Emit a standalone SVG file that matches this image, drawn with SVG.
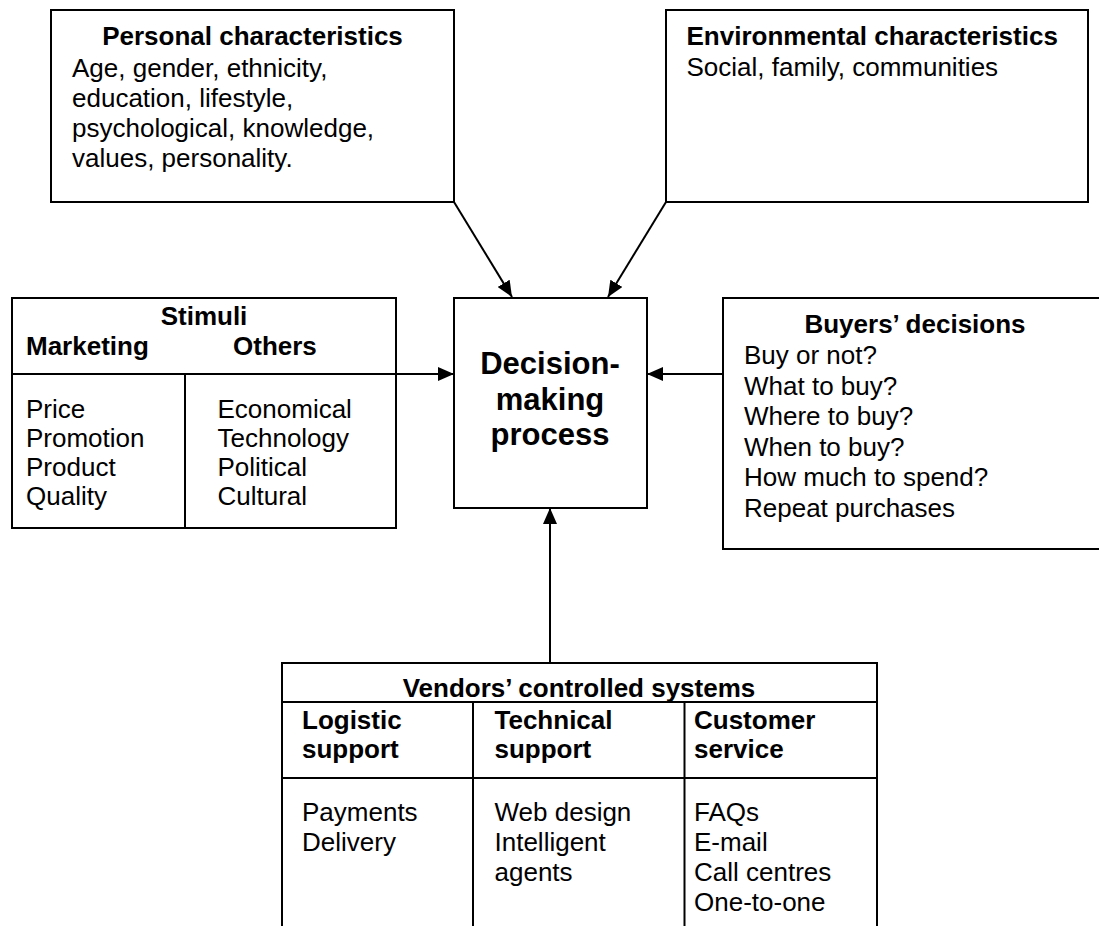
<svg xmlns="http://www.w3.org/2000/svg" width="1099" height="926" viewBox="0 0 1099 926">
<defs>
<style>
text{font-family:"Liberation Sans",Arial,sans-serif;font-size:26px;fill:#000}
.b{font-weight:bold}
.c{text-anchor:middle}
.box{fill:#fff;stroke:#000;stroke-width:2}
.ln{stroke:#000;stroke-width:2;fill:none}
.big{font-size:31px;font-weight:bold;text-anchor:middle}
</style>
<marker id="ah" markerUnits="userSpaceOnUse" markerWidth="16" markerHeight="14" refX="16" refY="7" orient="auto">
<path d="M0,0 L16,7 L0,14 z" fill="#000"/>
</marker>
</defs>
<rect width="1099" height="926" fill="#fff"/>
<g id="connectors">
<line class="ln" x1="454" y1="202" x2="512" y2="297" marker-end="url(#ah)"/>
<line class="ln" x1="666" y1="202" x2="608" y2="297" marker-end="url(#ah)"/>
<line class="ln" x1="396" y1="374" x2="454" y2="374" marker-end="url(#ah)"/>
<line class="ln" x1="723" y1="374" x2="647" y2="374" marker-end="url(#ah)"/>
<line class="ln" x1="550" y1="663" x2="550" y2="508" marker-end="url(#ah)"/>
</g>
<g id="personal">
<rect class="box" x="51" y="10" width="403" height="192"/>
<text class="b c" x="252.5" y="45">Personal characteristics</text>
<text x="72" y="76.5">Age, gender, ethnicity,</text>
<text x="72" y="106.5">education, lifestyle,</text>
<text x="72" y="136.5">psychological, knowledge,</text>
<text x="72" y="166.5">values, personality.</text>
</g>
<g id="environmental">
<rect class="box" x="666" y="10" width="422" height="192"/>
<text class="b" x="686.5" y="45">Environmental characteristics</text>
<text x="686.5" y="76">Social, family, communities</text>
</g>
<g id="decision">
<rect class="box" x="454" y="298" width="193" height="210"/>
<text class="big" x="550" y="374">Decision-</text>
<text class="big" x="550" y="409.5">making</text>
<text class="big" x="550" y="445">process</text>
</g>
<g id="stimuli">
<rect class="box" x="12" y="298" width="384" height="230"/>
<line class="ln" x1="12" y1="374" x2="396" y2="374"/>
<line class="ln" x1="185" y1="374" x2="185" y2="528"/>
<text class="b c" x="204" y="325">Stimuli</text>
<text class="b" x="26" y="355">Marketing</text>
<text class="b" x="233" y="355">Others</text>
<text x="26" y="418">Price</text>
<text x="26" y="447">Promotion</text>
<text x="26" y="476">Product</text>
<text x="26" y="505">Quality</text>
<text x="217.5" y="418">Economical</text>
<text x="217.5" y="447">Technology</text>
<text x="217.5" y="476">Political</text>
<text x="217.5" y="505">Cultural</text>
</g>
<g id="buyers">
<rect class="box" x="723" y="298" width="386" height="251"/>
<text class="b c" x="915" y="333">Buyers’ decisions</text>
<text x="744" y="364">Buy or not?</text>
<text x="744" y="394.6">What to buy?</text>
<text x="744" y="425.2">Where to buy?</text>
<text x="744" y="455.8">When to buy?</text>
<text x="744" y="486.4">How much to spend?</text>
<text x="744" y="517">Repeat purchases</text>
</g>
<g id="vendors">
<rect class="box" x="282" y="663" width="595" height="280"/>
<line class="ln" x1="282" y1="702" x2="877" y2="702"/>
<line class="ln" x1="282" y1="778" x2="877" y2="778"/>
<line class="ln" x1="473" y1="702" x2="473" y2="926"/>
<line class="ln" x1="684.5" y1="702" x2="684.5" y2="926"/>
<text class="b c" x="579" y="697">Vendors’ controlled systems</text>
<text class="b" x="302" y="729">Logistic</text>
<text class="b" x="302" y="757.5">support</text>
<text class="b" x="494.5" y="729">Technical</text>
<text class="b" x="494.5" y="757.5">support</text>
<text class="b" x="694" y="729">Customer</text>
<text class="b" x="694" y="757.5">service</text>
<text x="302" y="821">Payments</text>
<text x="302" y="851">Delivery</text>
<text x="494.5" y="821">Web design</text>
<text x="494.5" y="851">Intelligent</text>
<text x="494.5" y="881">agents</text>
<text x="694" y="821">FAQs</text>
<text x="694" y="851">E-mail</text>
<text x="694" y="881">Call centres</text>
<text x="694" y="911">One-to-one</text>
</g>
</svg>
